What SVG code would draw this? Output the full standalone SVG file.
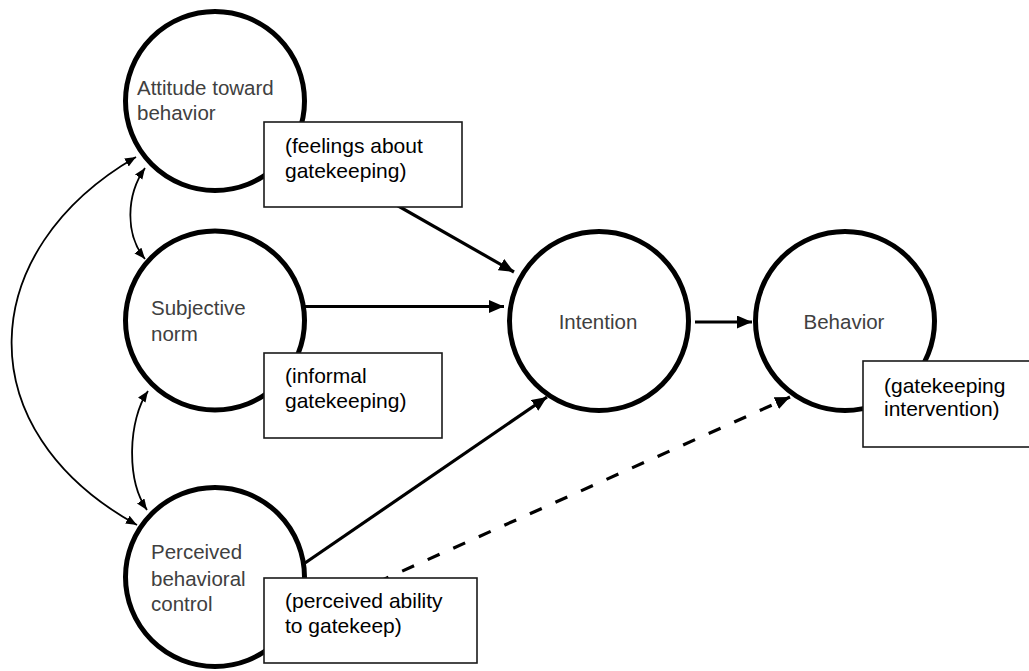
<svg xmlns="http://www.w3.org/2000/svg" width="1029" height="671" viewBox="0 0 1029 671">
<style>
.c{fill:#fff;stroke:#000;stroke-width:5}
.lab{font-family:"Liberation Sans",Arial,sans-serif;font-size:20.5px;fill:#404040}
.box{fill:#fff;stroke:#1a1a1a;stroke-width:1.6}
.bt{font-family:"Liberation Sans",Arial,sans-serif;font-size:21px;fill:#000}
.ln{fill:none;stroke:#000;stroke-width:3.2}
.thin{fill:none;stroke:#000;stroke-width:1.8}
.dash{stroke-dasharray:13 15}
</style>
<defs>
<marker id="ah" markerUnits="userSpaceOnUse" markerWidth="16" markerHeight="14" refX="15" refY="6.5" orient="auto">
<path d="M0,0 L15,6.5 L0,13 z" fill="#000"/>
</marker>
<marker id="ahs" markerUnits="userSpaceOnUse" markerWidth="12" markerHeight="10" refX="11" refY="4.5" orient="auto-start-reverse">
<path d="M0,0 L11,4.5 L0,9 z" fill="#000"/>
</marker>
</defs>
<rect width="1029" height="671" fill="#fff"/>
<g id="connectors">
<path class="thin" d="M145,168 C126,195 125,235 145,259" marker-start="url(#ahs)" marker-end="url(#ahs)"/>
<path class="thin" d="M148,391 C128,420 126,480 147,510" marker-start="url(#ahs)" marker-end="url(#ahs)"/>
<path class="thin" d="M136,157 C-25,250 -35,430 137,525" marker-start="url(#ahs)" marker-end="url(#ahs)"/>
<line class="ln" x1="300" y1="150" x2="514" y2="272" marker-end="url(#ah)"/>
<line class="ln" x1="305" y1="306.5" x2="504" y2="306.5" marker-end="url(#ah)"/>
<line class="ln" x1="305" y1="563" x2="547" y2="397" marker-end="url(#ah)"/>
<line class="ln" x1="695" y1="322" x2="752" y2="322" marker-end="url(#ah)"/>
<line class="ln dash" x1="300" y1="617" x2="790" y2="397" marker-end="url(#ah)"/>
</g>
<g id="attitude">
<circle class="c" cx="215" cy="101" r="89.5"/>
<text class="lab"><tspan x="137" y="95">Attitude toward</tspan><tspan x="137" y="120">behavior</tspan></text>
</g>
<g id="subjective-norm">
<circle class="c" cx="215" cy="320.5" r="89.5"/>
<text class="lab"><tspan x="151" y="315">Subjective</tspan><tspan x="151" y="341">norm</tspan></text>
</g>
<g id="perceived-control">
<circle class="c" cx="215" cy="577" r="89.5"/>
<text class="lab"><tspan x="151" y="559">Perceived</tspan><tspan x="151" y="586">behavioral</tspan><tspan x="151" y="611">control</tspan></text>
</g>
<g id="intention">
<circle class="c" cx="599" cy="321" r="89.5"/>
<text class="lab" x="598" y="329" text-anchor="middle">Intention</text>
</g>
<g id="behavior">
<circle class="c" cx="845" cy="321" r="89.5"/>
<text class="lab" x="844" y="329" text-anchor="middle">Behavior</text>
</g>
<g id="note-feelings">
<rect class="box" x="264" y="122" width="198" height="85"/>
<text class="bt"><tspan x="285" y="153">(feelings about</tspan><tspan x="285" y="178">gatekeeping)</tspan></text>
</g>
<g id="note-informal">
<rect class="box" x="264" y="353" width="178" height="85"/>
<text class="bt"><tspan x="285" y="383">(informal</tspan><tspan x="285" y="408">gatekeeping)</tspan></text>
</g>
<g id="note-ability">
<rect class="box" x="264" y="578" width="213" height="85"/>
<text class="bt"><tspan x="285" y="608">(perceived ability</tspan><tspan x="285" y="633">to gatekeep)</tspan></text>
</g>
<g id="note-intervention">
<rect class="box" x="863" y="361" width="190" height="86"/>
<text class="bt"><tspan x="884" y="393">(gatekeeping</tspan><tspan x="884" y="416">intervention)</tspan></text>
</g>
</svg>
